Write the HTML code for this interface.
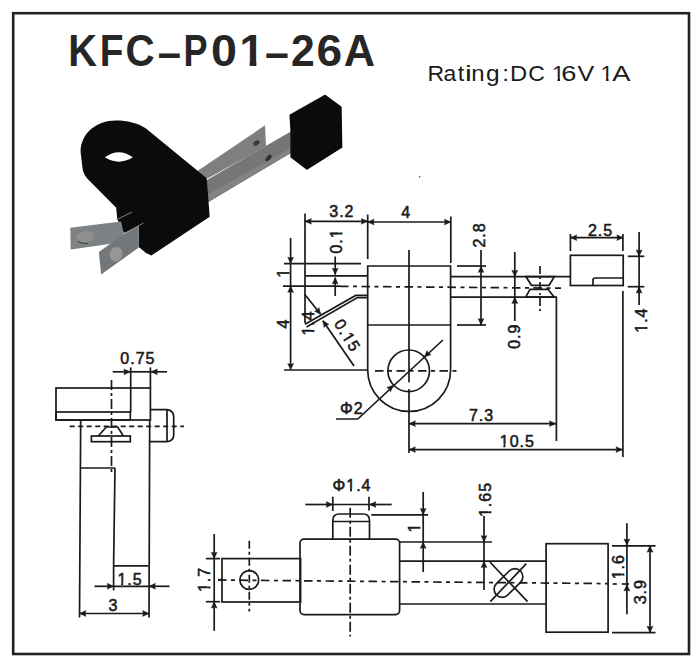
<!DOCTYPE html>
<html><head><meta charset="utf-8"><style>
html,body{margin:0;padding:0;background:#fff;width:700px;height:660px;overflow:hidden}
svg{display:block}
text{font-family:"Liberation Sans",sans-serif;font-kerning:none}
</style></head><body>
<svg width="700" height="660" viewBox="0 0 700 660">
<defs><clipPath id="c1"><rect x="-20.00" y="-57.98" width="64.80" height="52.23"/><rect x="10.11" y="-6.25" width="6.72" height="23.59"/></clipPath><clipPath id="c2"><rect x="-20.00" y="-29.38" width="52.57" height="25.79"/><rect x="5.38" y="-4.09" width="2.60" height="12.63"/></clipPath><clipPath id="c3"><rect x="-20.00" y="-29.38" width="52.57" height="25.79"/><rect x="5.38" y="-4.09" width="2.60" height="12.63"/></clipPath><clipPath id="c4"><rect x="-24.45" y="-20.80" width="48.90" height="17.70"/><rect x="-0.73" y="-3.60" width="2.01" height="9.50"/></clipPath><clipPath id="c5"><rect x="-32.12" y="-20.80" width="64.24" height="17.70"/><rect x="-15.12" y="-3.60" width="14.90" height="9.50"/><rect x="-5.22" y="-3.60" width="7.95" height="9.50"/><rect x="6.95" y="-3.60" width="2.01" height="9.50"/></clipPath><clipPath id="c6"><rect x="-20.00" y="-20.80" width="74.14" height="17.70"/><rect x="-3.00" y="-3.60" width="14.90" height="9.50"/><rect x="6.90" y="-3.60" width="7.95" height="9.50"/><rect x="19.07" y="-3.60" width="2.01" height="9.50"/><rect x="24.74" y="-3.60" width="12.40" height="9.50"/></clipPath><clipPath id="c7"><rect x="-32.12" y="-20.80" width="64.24" height="17.70"/><rect x="-8.40" y="-3.60" width="2.01" height="9.50"/><rect x="-2.72" y="-3.60" width="7.95" height="9.50"/><rect x="0.22" y="-3.60" width="14.90" height="9.50"/></clipPath><clipPath id="c8"><rect x="-32.12" y="-20.80" width="64.24" height="17.70"/><rect x="-8.40" y="-3.60" width="2.01" height="9.50"/><rect x="-2.72" y="-3.60" width="7.95" height="9.50"/><rect x="0.22" y="-3.60" width="14.90" height="9.50"/></clipPath><clipPath id="c9"><rect x="-37.07" y="-20.80" width="74.14" height="17.70"/><rect x="-13.35" y="-3.60" width="2.01" height="9.50"/><rect x="-7.67" y="-3.60" width="12.40" height="9.50"/><rect x="-0.27" y="-3.60" width="10.45" height="9.50"/><rect x="5.17" y="-3.60" width="14.90" height="9.50"/></clipPath><clipPath id="c10"><rect x="-32.12" y="-20.80" width="64.24" height="17.70"/><rect x="-8.40" y="-3.60" width="2.01" height="9.50"/><rect x="-2.72" y="-3.60" width="7.95" height="9.50"/><rect x="0.22" y="-3.60" width="14.90" height="9.50"/></clipPath><clipPath id="c11"><rect x="-32.12" y="-20.80" width="64.24" height="17.70"/><rect x="-8.40" y="-3.60" width="2.01" height="9.50"/><rect x="-2.72" y="-3.60" width="7.95" height="9.50"/><rect x="0.22" y="-3.60" width="14.90" height="9.50"/></clipPath><clipPath id="c12"><rect x="-39.00" y="-20.80" width="78.01" height="17.70"/><rect x="-22.00" y="-3.60" width="16.27" height="9.50"/><rect x="-1.51" y="-3.60" width="2.01" height="9.50"/><rect x="4.16" y="-3.60" width="7.95" height="9.50"/><rect x="7.11" y="-3.60" width="14.90" height="9.50"/></clipPath><clipPath id="c13"><rect x="-24.45" y="-20.80" width="48.90" height="17.70"/><rect x="-0.73" y="-3.60" width="2.01" height="9.50"/></clipPath><clipPath id="c14"><rect x="-37.07" y="-20.80" width="74.14" height="17.70"/><rect x="-13.35" y="-3.60" width="2.01" height="9.50"/><rect x="-7.67" y="-3.60" width="7.95" height="9.50"/><rect x="-4.73" y="-3.60" width="14.90" height="9.50"/><rect x="5.17" y="-3.60" width="14.90" height="9.50"/></clipPath><clipPath id="c15"><rect x="-32.12" y="-20.80" width="64.24" height="17.70"/><rect x="-8.40" y="-3.60" width="2.01" height="9.50"/><rect x="-2.72" y="-3.60" width="7.95" height="9.50"/><rect x="0.22" y="-3.60" width="14.90" height="9.50"/></clipPath></defs>
<rect x="13.2" y="13.2" width="675.8" height="640.8" fill="none" stroke="#222" stroke-width="2.6"/>
<text transform="translate(68.34,66.4) scale(0.892,1)" x="0" y="0" font-size="44.6" font-weight="bold" fill="#262626">K</text>
<text transform="translate(99.80,66.4) scale(0.871,1)" x="0" y="0" font-size="44.6" font-weight="bold" fill="#262626">F</text>
<text transform="translate(125.44,66.4) scale(0.905,1)" x="0" y="0" font-size="44.6" font-weight="bold" fill="#262626">C</text>
<text transform="translate(157.63,68.2) scale(0.937,1)" x="0" y="0" font-size="44.6" font-weight="bold" fill="#262626">–</text>
<text transform="translate(183.59,66.4) scale(0.808,1)" x="0" y="0" font-size="44.6" font-weight="bold" fill="#262626">P</text>
<text transform="translate(210.95,66.4) scale(1.047,1)" x="0" y="0" font-size="44.6" font-weight="bold" fill="#262626">0</text>
<text transform="translate(239.57,66.4)" x="0.00" y="0" font-size="44.6" font-weight="bold" fill="#262626" clip-path="url(#c1)">1</text>
<text transform="translate(265.10,68.2) scale(0.960,1)" x="0" y="0" font-size="44.6" font-weight="bold" fill="#262626">–</text>
<text transform="translate(291.12,66.4) scale(0.955,1)" x="0" y="0" font-size="44.6" font-weight="bold" fill="#262626">2</text>
<text transform="translate(316.61,66.4) scale(1.034,1)" x="0" y="0" font-size="44.6" font-weight="bold" fill="#262626">6</text>
<text transform="translate(343.82,66.4) scale(0.973,1)" x="0" y="0" font-size="44.6" font-weight="bold" fill="#262626">A</text>
<text transform="translate(427.51,80.9) scale(1.021,1)" x="0" y="0" font-size="22.6" fill="#1a1a1a">R</text>
<text transform="translate(443.62,80.9) scale(1.016,1)" x="0" y="0" font-size="22.6" fill="#1a1a1a">a</text>
<text transform="translate(457.64,80.9) scale(1.040,1)" x="0" y="0" font-size="22.6" fill="#1a1a1a">t</text>
<text transform="translate(465.05,80.9) scale(1.359,1)" x="0" y="0" font-size="22.6" fill="#1a1a1a">i</text>
<text transform="translate(471.31,80.9) scale(1.062,1)" x="0" y="0" font-size="22.6" fill="#1a1a1a">n</text>
<text transform="translate(486.07,80.9) scale(1.082,1)" x="0" y="0" font-size="22.6" fill="#1a1a1a">g</text>
<text transform="translate(502.19,80.9) scale(1.069,1)" x="0" y="0" font-size="22.6" fill="#1a1a1a">:</text>
<text transform="translate(509.95,80.9) scale(1.053,1)" x="0" y="0" font-size="22.6" fill="#1a1a1a">D</text>
<text transform="translate(528.23,80.9) scale(1.020,1)" x="0" y="0" font-size="22.6" fill="#1a1a1a">C</text>
<text transform="translate(552.12,80.9)" x="0.00" y="0" font-size="22.6" fill="#1a1a1a" clip-path="url(#c2)">1</text>
<text transform="translate(561.31,80.9) scale(1.208,1)" x="0" y="0" font-size="22.6" fill="#1a1a1a">6</text>
<text transform="translate(577.49,80.9) scale(1.109,1)" x="0" y="0" font-size="22.6" fill="#1a1a1a">V</text>
<text transform="translate(600.62,80.9)" x="0.00" y="0" font-size="22.6" fill="#1a1a1a" clip-path="url(#c3)">1</text>
<text transform="translate(612.15,80.9) scale(1.208,1)" x="0" y="0" font-size="22.6" fill="#1a1a1a">A</text>
<g id="photo">
<polygon points="190,176 265,125.3 266,146.1 208,178.3" fill="#7f807e"/>
<polygon points="200,184 290.9,131.4 290.9,152.9 202,206" fill="#767775"/>
<polygon points="205,196 290.9,148 290.9,152.9 209.3,200.7" fill="#838482"/>
<ellipse cx="256.5" cy="143" rx="3.5" ry="2.2" transform="rotate(-30 256.5 143)" fill="#3a3a3a"/>
<ellipse cx="268.5" cy="158" rx="4" ry="2" transform="rotate(-50 268.5 158)" fill="#2e2e2e"/>
<path d="M80.6,152 C80.6,133 97,120.6 115.5,120.6 C128,120.6 137,123 146,128.5 L206.7,178.2 L209.7,216.8 L151.4,255.5 L146,253 L138.8,247 L138.8,227 L124,233 L117.2,219 L116.2,207.8 L89.7,181 Q83,175 82.5,168 Z" fill="#0b0b0b"/>
<path d="M104.8,157.3 Q118.8,147 132.9,157.3 Q118.8,166 104.8,157.3 Z" fill="#fff"/>
<polygon points="70.3,227.7 121.1,221.6 123.6,232.9 123.6,242 70.7,249.4" fill="#7f8284"/>
<polygon points="98.9,252.1 124.6,233.4 138.8,225.5 138.8,247.5 101.1,274.6" fill="#747779"/>
<line x1="117.7" y1="219.1" x2="132" y2="212.2" stroke="#9aa59a" stroke-width="0.8"/>
<line x1="124.6" y1="233.4" x2="143.3" y2="223.1" stroke="#9aa59a" stroke-width="0.8"/>
<ellipse cx="85" cy="237.1" rx="8.8" ry="5.8" transform="rotate(-6 85 237.1)" fill="#8e908e"/>
<path d="M78,241.5 Q82,244 88,243.4" stroke="#3a3c3e" stroke-width="1.2" fill="none"/>
<ellipse cx="116" cy="254.1" rx="6.3" ry="7.3" transform="rotate(20 116 254.1)" fill="#969696"/>
<polygon points="290.2,115.2 325.2,95.5 340.9,107 341.6,147.2 306.8,169 291.1,156.8 291.1,129.5" fill="#0b0b0b" stroke="#0b0b0b" stroke-width="1.5" stroke-linejoin="round"/>
</g>
<rect x="419" y="176" width="1.3" height="1.5" fill="#555"/>
<line x1="305" y1="213.5" x2="305" y2="323" stroke="#1a1a1a" stroke-width="1.7"/>
<line x1="367.7" y1="214.5" x2="367.7" y2="259" stroke="#1a1a1a" stroke-width="1.7"/>
<line x1="450.8" y1="216.5" x2="450.8" y2="263" stroke="#1a1a1a" stroke-width="1.7"/>
<line x1="305" y1="221.3" x2="367.7" y2="221.3" stroke="#1a1a1a" stroke-width="1.7"/>
<polygon points="305.0,221.3 311.4,218.4 310.7,221.3 311.4,224.2" fill="#1a1a1a" stroke="#1a1a1a" stroke-width="0.4" stroke-linejoin="round"/>
<polygon points="367.7,221.3 361.3,224.2 362.0,221.3 361.3,218.4" fill="#1a1a1a" stroke="#1a1a1a" stroke-width="0.4" stroke-linejoin="round"/>
<line x1="367.7" y1="222" x2="450.8" y2="222" stroke="#1a1a1a" stroke-width="1.7"/>
<polygon points="367.7,222.0 374.1,219.1 373.4,222.0 374.1,224.9" fill="#1a1a1a" stroke="#1a1a1a" stroke-width="0.4" stroke-linejoin="round"/>
<polygon points="450.8,222.0 444.4,224.9 445.1,222.0 444.4,219.1" fill="#1a1a1a" stroke="#1a1a1a" stroke-width="0.4" stroke-linejoin="round"/>
<text transform="translate(341.40,217)" x="-12.12 -2.22 3.22" y="0" font-size="16" fill="#1a1a1a" stroke="#1a1a1a" stroke-width="0.55" stroke-linejoin="round">3.2</text>
<text transform="translate(405.70,217.5)" x="-4.45" y="0" font-size="16" fill="#1a1a1a" stroke="#1a1a1a" stroke-width="0.55" stroke-linejoin="round">4</text>
<path d="M367.7,266 L450.6,266 L450.6,370 A41.45,41.45 0 0 1 367.7,370 Z" fill="none" stroke="#1a1a1a" stroke-width="1.7"/>
<line x1="367.7" y1="325" x2="450.6" y2="325" stroke="#1a1a1a" stroke-width="1.7"/>
<line x1="284" y1="263.6" x2="361" y2="263.6" stroke="#1a1a1a" stroke-width="1.7"/>
<line x1="305" y1="275.8" x2="367.7" y2="275.8" stroke="#1a1a1a" stroke-width="1.7"/>
<line x1="450.6" y1="276.6" x2="570.4" y2="276.6" stroke="#1a1a1a" stroke-width="1.7"/>
<line x1="450.6" y1="297.2" x2="557" y2="297.2" stroke="#1a1a1a" stroke-width="1.7"/>
<line x1="283" y1="286.2" x2="340" y2="286.2" stroke="#1a1a1a" stroke-width="1.7"/>
<line x1="340" y1="286.3" x2="561" y2="288.2" stroke="#1a1a1a" stroke-width="1.7" stroke-dasharray="8.5 4.5 4 4.5"/>
<line x1="290.6" y1="238" x2="290.6" y2="366" stroke="#1a1a1a" stroke-width="1.7"/>
<polygon points="290.6,263.6 287.7,257.2 290.6,257.9 293.6,257.2" fill="#1a1a1a" stroke="#1a1a1a" stroke-width="0.4" stroke-linejoin="round"/>
<polygon points="290.6,286.0 293.6,292.4 290.6,291.7 287.7,292.4" fill="#1a1a1a" stroke="#1a1a1a" stroke-width="0.4" stroke-linejoin="round"/>
<polygon points="290.6,370.0 287.7,363.6 290.6,364.3 293.6,363.6" fill="#1a1a1a" stroke="#1a1a1a" stroke-width="0.4" stroke-linejoin="round"/>
<text transform="translate(288.8,273.2) rotate(-90)" x="-4.45" y="0" font-size="16" fill="#1a1a1a" stroke="#1a1a1a" stroke-width="0.55" stroke-linejoin="round" clip-path="url(#c4)">1</text>
<text transform="translate(288.5,324) rotate(-90)" x="-4.45" y="0" font-size="16" fill="#1a1a1a" stroke="#1a1a1a" stroke-width="0.55" stroke-linejoin="round">4</text>
<line x1="284" y1="370" x2="367.7" y2="370" stroke="#1a1a1a" stroke-width="1.7"/>
<line x1="375" y1="370.8" x2="457" y2="370.8" stroke="#1a1a1a" stroke-width="1.7" stroke-dasharray="8.5 4.5 4 4.5"/>
<line x1="335.2" y1="256.5" x2="335.2" y2="274.6" stroke="#1a1a1a" stroke-width="1.7"/>
<polygon points="335.2,274.6 332.2,268.2 335.2,268.9 338.1,268.2" fill="#1a1a1a" stroke="#1a1a1a" stroke-width="0.4" stroke-linejoin="round"/>
<line x1="335.2" y1="296" x2="335.2" y2="277.6" stroke="#1a1a1a" stroke-width="1.7"/>
<polygon points="335.2,277.6 338.1,284.0 335.2,283.3 332.2,284.0" fill="#1a1a1a" stroke="#1a1a1a" stroke-width="0.4" stroke-linejoin="round"/>
<text transform="translate(341.5,241.5) rotate(-90)" x="-12.12 -2.22 3.22" y="0" font-size="16" fill="#1a1a1a" stroke="#1a1a1a" stroke-width="0.55" stroke-linejoin="round" clip-path="url(#c5)">0.1</text>
<polyline points="305,324.3 355.7,295.4 367.7,295.4" fill="none" stroke="#1a1a1a" stroke-width="1.7" stroke-linejoin="miter"/>
<polyline points="306.5,327 357.5,297.6 367.7,297.6" fill="none" stroke="#1a1a1a" stroke-width="1.7" stroke-linejoin="miter"/>
<line x1="304.6" y1="294.3" x2="320.7" y2="314.3" stroke="#1a1a1a" stroke-width="1.7"/>
<polygon points="320.7,314.3 314.4,311.2 317.1,309.9 319.0,307.5" fill="#1a1a1a" stroke="#1a1a1a" stroke-width="0.4" stroke-linejoin="round"/>
<line x1="354" y1="366" x2="322.9" y2="320.7" stroke="#1a1a1a" stroke-width="1.7"/>
<polygon points="322.9,320.7 329.0,324.3 326.1,325.4 324.1,327.6" fill="#1a1a1a" stroke="#1a1a1a" stroke-width="0.4" stroke-linejoin="round"/>
<text transform="translate(333.5,323.5) rotate(58)" x="0.00 9.90 15.34 25.24" y="0" font-size="16" fill="#1a1a1a" stroke="#1a1a1a" stroke-width="0.55" stroke-linejoin="round" clip-path="url(#c6)">0.15</text>
<text transform="translate(314,323.5) rotate(-90)" x="-12.12 -2.22 3.22" y="0" font-size="16" fill="#1a1a1a" stroke="#1a1a1a" stroke-width="0.55" stroke-linejoin="round" clip-path="url(#c7)">1.4</text>
<circle cx="408.7" cy="370.8" r="20.8" fill="none" stroke="#1a1a1a" stroke-width="1.7"/>
<line x1="409" y1="250" x2="409" y2="382.2" stroke="#1a1a1a" stroke-width="1.7"/>
<line x1="409" y1="389" x2="409" y2="453" stroke="#1a1a1a" stroke-width="1.7"/>
<polyline points="336,419 357.8,419 442.9,340" fill="none" stroke="#1a1a1a" stroke-width="1.7" stroke-linejoin="miter"/>
<polygon points="393.4,385.3 390.6,391.8 389.2,389.1 386.7,387.4" fill="#1a1a1a" stroke="#1a1a1a" stroke-width="0.4" stroke-linejoin="round"/>
<polygon points="424.3,356.9 427.0,350.4 428.5,353.0 431.0,354.7" fill="#1a1a1a" stroke="#1a1a1a" stroke-width="0.4" stroke-linejoin="round"/>
<text transform="translate(340.00,414)" x="0.00 13.77" y="0" font-size="16" fill="#1a1a1a" stroke="#1a1a1a" stroke-width="0.55" stroke-linejoin="round">Φ2</text>
<line x1="481" y1="266" x2="481" y2="325" stroke="#1a1a1a" stroke-width="1.7"/>
<polygon points="481.0,266.0 483.9,272.4 481.0,271.7 478.1,272.4" fill="#1a1a1a" stroke="#1a1a1a" stroke-width="0.4" stroke-linejoin="round"/>
<polygon points="481.0,325.0 478.1,318.6 481.0,319.3 483.9,318.6" fill="#1a1a1a" stroke="#1a1a1a" stroke-width="0.4" stroke-linejoin="round"/>
<line x1="481" y1="250" x2="481" y2="266" stroke="#1a1a1a" stroke-width="1.7"/>
<line x1="457" y1="266" x2="486" y2="266" stroke="#1a1a1a" stroke-width="1.7"/>
<line x1="457" y1="325" x2="486" y2="325" stroke="#1a1a1a" stroke-width="1.7"/>
<text transform="translate(485,235.5) rotate(-90)" x="-12.12 -2.22 3.22" y="0" font-size="16" fill="#1a1a1a" stroke="#1a1a1a" stroke-width="0.55" stroke-linejoin="round">2.8</text>
<line x1="514.8" y1="252" x2="514.8" y2="276.6" stroke="#1a1a1a" stroke-width="1.7"/>
<polygon points="514.8,276.6 511.8,270.2 514.8,270.9 517.8,270.2" fill="#1a1a1a" stroke="#1a1a1a" stroke-width="0.4" stroke-linejoin="round"/>
<line x1="514.8" y1="321" x2="514.8" y2="297.2" stroke="#1a1a1a" stroke-width="1.7"/>
<polygon points="514.8,297.2 517.8,303.6 514.8,302.9 511.8,303.6" fill="#1a1a1a" stroke="#1a1a1a" stroke-width="0.4" stroke-linejoin="round"/>
<line x1="514.8" y1="276.6" x2="514.8" y2="297.2" stroke="#1a1a1a" stroke-width="1.7"/>
<text transform="translate(520,336.7) rotate(-90)" x="-12.12 -2.22 3.22" y="0" font-size="16" fill="#1a1a1a" stroke="#1a1a1a" stroke-width="0.55" stroke-linejoin="round">0.9</text>
<polygon points="526,276.7 531.4,285.3 549.1,285.3 554.3,276.7" fill="none" stroke="#1a1a1a" stroke-width="1.7" stroke-linejoin="miter"/>
<polygon points="525.7,297.2 530,289.3 548,289.3 554.3,297.2" fill="none" stroke="#1a1a1a" stroke-width="1.7" stroke-linejoin="miter"/>
<line x1="540" y1="266" x2="540" y2="313" stroke="#1a1a1a" stroke-width="1.7" stroke-dasharray="8 3 2 3"/>
<rect x="570.4" y="255.3" width="52.8" height="30.2" fill="none" stroke="#1a1a1a" stroke-width="1.7"/>
<path d="M623.2,278 L595,278 Q593,278 593,280 L593,285.5" fill="none" stroke="#1a1a1a" stroke-width="1.7"/>
<line x1="570.4" y1="237.7" x2="623.2" y2="237.7" stroke="#1a1a1a" stroke-width="1.7"/>
<polygon points="570.4,237.7 576.8,234.8 576.1,237.7 576.8,240.6" fill="#1a1a1a" stroke="#1a1a1a" stroke-width="0.4" stroke-linejoin="round"/>
<polygon points="623.2,237.7 616.8,240.6 617.5,237.7 616.8,234.8" fill="#1a1a1a" stroke="#1a1a1a" stroke-width="0.4" stroke-linejoin="round"/>
<line x1="570.4" y1="234" x2="570.4" y2="251" stroke="#1a1a1a" stroke-width="1.7"/>
<line x1="622.9" y1="234" x2="622.9" y2="251" stroke="#1a1a1a" stroke-width="1.7"/>
<line x1="622.9" y1="291" x2="622.9" y2="457" stroke="#1a1a1a" stroke-width="1.7"/>
<text transform="translate(600.00,236)" x="-12.12 -2.22 3.22" y="0" font-size="16" fill="#1a1a1a" stroke="#1a1a1a" stroke-width="0.55" stroke-linejoin="round">2.5</text>
<line x1="627.8" y1="256.3" x2="644.3" y2="256.3" stroke="#1a1a1a" stroke-width="1.7"/>
<line x1="627.8" y1="286.7" x2="644.3" y2="286.7" stroke="#1a1a1a" stroke-width="1.7"/>
<line x1="639.1" y1="232" x2="639.1" y2="256.3" stroke="#1a1a1a" stroke-width="1.7"/>
<polygon points="639.1,256.3 636.1,249.9 639.1,250.6 642.1,249.9" fill="#1a1a1a" stroke="#1a1a1a" stroke-width="0.4" stroke-linejoin="round"/>
<line x1="639.1" y1="305" x2="639.1" y2="286.7" stroke="#1a1a1a" stroke-width="1.7"/>
<polygon points="639.1,286.7 642.1,293.1 639.1,292.4 636.1,293.1" fill="#1a1a1a" stroke="#1a1a1a" stroke-width="0.4" stroke-linejoin="round"/>
<line x1="639.1" y1="256.3" x2="639.1" y2="286.7" stroke="#1a1a1a" stroke-width="1.7"/>
<text transform="translate(647,320.6) rotate(-90)" x="-12.12 -2.22 3.22" y="0" font-size="16" fill="#1a1a1a" stroke="#1a1a1a" stroke-width="0.55" stroke-linejoin="round" clip-path="url(#c8)">1.4</text>
<line x1="556.4" y1="297.2" x2="556.4" y2="441" stroke="#1a1a1a" stroke-width="1.7"/>
<line x1="409" y1="423.7" x2="555.8" y2="423.7" stroke="#1a1a1a" stroke-width="1.7"/>
<polygon points="409.0,423.7 415.4,420.8 414.7,423.7 415.4,426.6" fill="#1a1a1a" stroke="#1a1a1a" stroke-width="0.4" stroke-linejoin="round"/>
<polygon points="555.8,423.7 549.4,426.6 550.1,423.7 549.4,420.8" fill="#1a1a1a" stroke="#1a1a1a" stroke-width="0.4" stroke-linejoin="round"/>
<line x1="409" y1="449.6" x2="622.4" y2="449.6" stroke="#1a1a1a" stroke-width="1.7"/>
<polygon points="409.0,449.6 415.4,446.7 414.7,449.6 415.4,452.6" fill="#1a1a1a" stroke="#1a1a1a" stroke-width="0.4" stroke-linejoin="round"/>
<polygon points="622.4,449.6 616.0,452.6 616.7,449.6 616.0,446.7" fill="#1a1a1a" stroke="#1a1a1a" stroke-width="0.4" stroke-linejoin="round"/>
<text transform="translate(481.00,421)" x="-12.12 -2.22 3.22" y="0" font-size="16" fill="#1a1a1a" stroke="#1a1a1a" stroke-width="0.55" stroke-linejoin="round">7.3</text>
<text transform="translate(516.80,446.8)" x="-17.07 -7.17 2.73 8.17" y="0" font-size="16" fill="#1a1a1a" stroke="#1a1a1a" stroke-width="0.55" stroke-linejoin="round" clip-path="url(#c9)">10.5</text>
<rect x="56" y="388" width="94.4" height="32" fill="none" stroke="#1a1a1a" stroke-width="1.7"/>
<rect x="56" y="412" width="74.3" height="8" fill="none" stroke="#1a1a1a" stroke-width="1.7"/>
<line x1="130.7" y1="367.4" x2="130.7" y2="412" stroke="#1a1a1a" stroke-width="1.7"/>
<line x1="150.4" y1="367.4" x2="150.4" y2="388" stroke="#1a1a1a" stroke-width="1.7"/>
<line x1="112.7" y1="371.8" x2="130.2" y2="371.8" stroke="#1a1a1a" stroke-width="1.7"/>
<polygon points="130.2,371.8 123.8,374.8 124.5,371.8 123.8,368.9" fill="#1a1a1a" stroke="#1a1a1a" stroke-width="0.4" stroke-linejoin="round"/>
<line x1="130.2" y1="371.8" x2="150.6" y2="371.8" stroke="#1a1a1a" stroke-width="1.7"/>
<line x1="167" y1="371.8" x2="151" y2="371.8" stroke="#1a1a1a" stroke-width="1.7"/>
<polygon points="151.0,371.8 157.4,368.9 156.7,371.8 157.4,374.8" fill="#1a1a1a" stroke="#1a1a1a" stroke-width="0.4" stroke-linejoin="round"/>
<text transform="translate(137.40,364)" x="-17.07 -7.17 -1.73 8.17" y="0" font-size="16" fill="#1a1a1a" stroke="#1a1a1a" stroke-width="0.55" stroke-linejoin="round">0.75</text>
<line x1="111.5" y1="380" x2="111.5" y2="475" stroke="#1a1a1a" stroke-width="1.7" stroke-dasharray="10 3 3 3"/>
<line x1="69.7" y1="426.4" x2="184" y2="426.4" stroke="#1a1a1a" stroke-width="1.7" stroke-dasharray="5 3.5"/>
<line x1="80.7" y1="420" x2="79.5" y2="617.6" stroke="#1a1a1a" stroke-width="1.7"/>
<line x1="149.7" y1="420" x2="149" y2="617.6" stroke="#1a1a1a" stroke-width="1.7"/>
<path d="M150,409.7 L167,409.7 Q173.7,410.5 173.7,417 L173.7,435 Q173.7,441 167,441.7 L150,441.7" fill="none" stroke="#1a1a1a" stroke-width="1.7"/>
<line x1="167" y1="409.7" x2="167" y2="441.7" stroke="#1a1a1a" stroke-width="1.7"/>
<rect x="91.4" y="436" width="38.9" height="5.7" fill="none" stroke="#1a1a1a" stroke-width="1.7"/>
<polyline points="98.3,436 106.3,427 117.7,427 123.4,436" fill="none" stroke="#1a1a1a" stroke-width="1.7" stroke-linejoin="miter"/>
<line x1="80.9" y1="468" x2="115" y2="468" stroke="#1a1a1a" stroke-width="1.7"/>
<line x1="115" y1="468" x2="113.6" y2="565.8" stroke="#1a1a1a" stroke-width="1.7"/>
<line x1="113.6" y1="565.8" x2="148.5" y2="565.8" stroke="#1a1a1a" stroke-width="1.7"/>
<line x1="113.6" y1="565.8" x2="113.6" y2="590.4" stroke="#1a1a1a" stroke-width="1.7"/>
<line x1="94.5" y1="586.3" x2="113.6" y2="586.3" stroke="#1a1a1a" stroke-width="1.7"/>
<polygon points="113.6,586.3 107.2,589.2 107.9,586.3 107.2,583.3" fill="#1a1a1a" stroke="#1a1a1a" stroke-width="0.4" stroke-linejoin="round"/>
<line x1="169.5" y1="586.3" x2="149" y2="586.3" stroke="#1a1a1a" stroke-width="1.7"/>
<polygon points="149.0,586.3 155.4,583.3 154.7,586.3 155.4,589.2" fill="#1a1a1a" stroke="#1a1a1a" stroke-width="0.4" stroke-linejoin="round"/>
<line x1="113.6" y1="586.3" x2="149" y2="586.3" stroke="#1a1a1a" stroke-width="1.7"/>
<text transform="translate(129.50,585)" x="-12.12 -2.22 3.22" y="0" font-size="16" fill="#1a1a1a" stroke="#1a1a1a" stroke-width="0.55" stroke-linejoin="round" clip-path="url(#c10)">1.5</text>
<line x1="79.5" y1="613.5" x2="149" y2="613.5" stroke="#1a1a1a" stroke-width="1.7"/>
<polygon points="79.5,613.5 85.9,610.5 85.2,613.5 85.9,616.5" fill="#1a1a1a" stroke="#1a1a1a" stroke-width="0.4" stroke-linejoin="round"/>
<polygon points="149.0,613.5 142.6,616.5 143.3,613.5 142.6,610.5" fill="#1a1a1a" stroke="#1a1a1a" stroke-width="0.4" stroke-linejoin="round"/>
<text transform="translate(113.00,610.8)" x="-4.45" y="0" font-size="16" fill="#1a1a1a" stroke="#1a1a1a" stroke-width="0.55" stroke-linejoin="round">3</text>
<rect x="222" y="558.6" width="78.6" height="43.4" fill="none" stroke="#1a1a1a" stroke-width="1.7"/>
<circle cx="249.3" cy="580" r="9.4" fill="none" stroke="#1a1a1a" stroke-width="1.7"/>
<line x1="249.3" y1="540.7" x2="249.3" y2="611.4" stroke="#1a1a1a" stroke-width="1.7" stroke-dasharray="8 3 3 3"/>
<line x1="218" y1="580" x2="608" y2="583.6" stroke="#1a1a1a" stroke-width="1.7" stroke-dasharray="8.5 4.5 4 4.5"/>
<line x1="612.7" y1="584" x2="616.8" y2="584" stroke="#1a1a1a" stroke-width="1.7"/>
<line x1="621.8" y1="584" x2="629" y2="584" stroke="#1a1a1a" stroke-width="1.7"/>
<line x1="214.2" y1="534" x2="214.2" y2="558.6" stroke="#1a1a1a" stroke-width="1.7"/>
<polygon points="214.2,558.6 211.2,552.2 214.2,552.9 217.1,552.2" fill="#1a1a1a" stroke="#1a1a1a" stroke-width="0.4" stroke-linejoin="round"/>
<line x1="214.2" y1="558.6" x2="214.2" y2="602" stroke="#1a1a1a" stroke-width="1.7"/>
<line x1="214.2" y1="630.8" x2="214.2" y2="601.7" stroke="#1a1a1a" stroke-width="1.7"/>
<polygon points="214.2,601.7 217.1,608.1 214.2,607.4 211.2,608.1" fill="#1a1a1a" stroke="#1a1a1a" stroke-width="0.4" stroke-linejoin="round"/>
<line x1="205.8" y1="558.6" x2="220" y2="558.6" stroke="#1a1a1a" stroke-width="1.7"/>
<line x1="205.8" y1="601.7" x2="220" y2="601.7" stroke="#1a1a1a" stroke-width="1.7"/>
<line x1="218.3" y1="579.7" x2="222" y2="579.7" stroke="#1a1a1a" stroke-width="1.7"/>
<text transform="translate(210,580) rotate(-90)" x="-12.12 -2.22 3.22" y="0" font-size="16" fill="#1a1a1a" stroke="#1a1a1a" stroke-width="0.55" stroke-linejoin="round" clip-path="url(#c11)">1.7</text>
<rect x="300" y="539.1" width="99.6" height="75.5" rx="4" fill="none" stroke="#1a1a1a" stroke-width="1.7"/>
<path d="M332.8,539.1 L332.8,520.5 Q332.8,514 339.3,514 L363,514 Q369.5,514 369.5,520.5 L369.5,539.1" fill="none" stroke="#1a1a1a" stroke-width="1.7"/>
<line x1="332.8" y1="521.5" x2="369.5" y2="521.5" stroke="#1a1a1a" stroke-width="1.7"/>
<line x1="350.2" y1="507.7" x2="350.2" y2="636.6" stroke="#1a1a1a" stroke-width="1.7" stroke-dasharray="10 3 3 3"/>
<line x1="332.8" y1="496.7" x2="332.8" y2="511" stroke="#1a1a1a" stroke-width="1.7"/>
<line x1="369" y1="496.7" x2="369" y2="510.5" stroke="#1a1a1a" stroke-width="1.7"/>
<line x1="305.3" y1="504.5" x2="332.6" y2="504.5" stroke="#1a1a1a" stroke-width="1.7"/>
<polygon points="332.6,504.5 326.2,507.4 326.9,504.5 326.2,501.6" fill="#1a1a1a" stroke="#1a1a1a" stroke-width="0.4" stroke-linejoin="round"/>
<line x1="391.7" y1="504.5" x2="369.5" y2="504.5" stroke="#1a1a1a" stroke-width="1.7"/>
<polygon points="369.5,504.5 375.9,501.6 375.2,504.5 375.9,507.4" fill="#1a1a1a" stroke="#1a1a1a" stroke-width="0.4" stroke-linejoin="round"/>
<line x1="332.6" y1="504.5" x2="369.5" y2="504.5" stroke="#1a1a1a" stroke-width="1.7"/>
<text transform="translate(351.50,491.4)" x="-19.00 -5.24 4.66 10.11" y="0" font-size="16" fill="#1a1a1a" stroke="#1a1a1a" stroke-width="0.55" stroke-linejoin="round" clip-path="url(#c12)">Φ1.4</text>
<line x1="371.3" y1="514.8" x2="428" y2="514.8" stroke="#1a1a1a" stroke-width="1.7"/>
<line x1="399.6" y1="542" x2="492" y2="542" stroke="#1a1a1a" stroke-width="1.7"/>
<line x1="399.6" y1="561.2" x2="546" y2="561.2" stroke="#1a1a1a" stroke-width="1.7"/>
<line x1="399.6" y1="604" x2="546" y2="604" stroke="#1a1a1a" stroke-width="1.7"/>
<line x1="423.2" y1="492" x2="423.2" y2="514.8" stroke="#1a1a1a" stroke-width="1.7"/>
<polygon points="423.2,514.8 420.2,508.4 423.2,509.1 426.1,508.4" fill="#1a1a1a" stroke="#1a1a1a" stroke-width="0.4" stroke-linejoin="round"/>
<line x1="423.2" y1="572" x2="423.2" y2="542" stroke="#1a1a1a" stroke-width="1.7"/>
<polygon points="423.2,542.0 426.1,548.4 423.2,547.7 420.2,548.4" fill="#1a1a1a" stroke="#1a1a1a" stroke-width="0.4" stroke-linejoin="round"/>
<line x1="423.2" y1="514.8" x2="423.2" y2="542" stroke="#1a1a1a" stroke-width="1.7"/>
<text transform="translate(420,528) rotate(-90)" x="-4.45" y="0" font-size="16" fill="#1a1a1a" stroke="#1a1a1a" stroke-width="0.55" stroke-linejoin="round" clip-path="url(#c13)">1</text>
<line x1="484" y1="516" x2="484" y2="542" stroke="#1a1a1a" stroke-width="1.7"/>
<polygon points="484.0,542.0 481.1,535.6 484.0,536.3 486.9,535.6" fill="#1a1a1a" stroke="#1a1a1a" stroke-width="0.4" stroke-linejoin="round"/>
<line x1="484" y1="590" x2="484" y2="561.2" stroke="#1a1a1a" stroke-width="1.7"/>
<polygon points="484.0,561.2 486.9,567.6 484.0,566.9 481.1,567.6" fill="#1a1a1a" stroke="#1a1a1a" stroke-width="0.4" stroke-linejoin="round"/>
<line x1="484" y1="542" x2="484" y2="561.2" stroke="#1a1a1a" stroke-width="1.7"/>
<text transform="translate(491,500) rotate(-90)" x="-17.07 -7.17 -1.73 8.17" y="0" font-size="16" fill="#1a1a1a" stroke="#1a1a1a" stroke-width="0.55" stroke-linejoin="round" clip-path="url(#c14)">1.65</text>
<line x1="489.9" y1="562" x2="527.6" y2="601.7" stroke="#1a1a1a" stroke-width="1.7"/>
<line x1="526.3" y1="563.6" x2="490.3" y2="601.7" stroke="#1a1a1a" stroke-width="1.7"/>
<rect x="-17" y="-8" width="34" height="16" rx="8" transform="translate(508.5,583) rotate(-45)" fill="none" stroke="#1a1a1a" stroke-width="1.7"/>
<rect x="546.1" y="543.7" width="62" height="88.5" fill="none" stroke="#1a1a1a" stroke-width="1.7"/>
<line x1="612" y1="545.8" x2="655.5" y2="545.8" stroke="#1a1a1a" stroke-width="1.7"/>
<line x1="612" y1="632.6" x2="655.5" y2="632.6" stroke="#1a1a1a" stroke-width="1.7"/>
<line x1="626.9" y1="523.3" x2="626.9" y2="545.3" stroke="#1a1a1a" stroke-width="1.7"/>
<polygon points="626.9,545.3 623.9,538.9 626.9,539.6 629.9,538.9" fill="#1a1a1a" stroke="#1a1a1a" stroke-width="0.4" stroke-linejoin="round"/>
<line x1="626.9" y1="614.3" x2="626.9" y2="584.6" stroke="#1a1a1a" stroke-width="1.7"/>
<polygon points="626.9,584.6 629.9,591.0 626.9,590.3 623.9,591.0" fill="#1a1a1a" stroke="#1a1a1a" stroke-width="0.4" stroke-linejoin="round"/>
<line x1="626.9" y1="545" x2="626.9" y2="585" stroke="#1a1a1a" stroke-width="1.7"/>
<text transform="translate(624,567.2) rotate(-90)" x="-12.12 -2.22 3.22" y="0" font-size="16" fill="#1a1a1a" stroke="#1a1a1a" stroke-width="0.55" stroke-linejoin="round" clip-path="url(#c15)">1.6</text>
<line x1="650" y1="545.8" x2="650" y2="632.6" stroke="#1a1a1a" stroke-width="1.7"/>
<polygon points="650.0,545.8 653.0,552.2 650.0,551.5 647.0,552.2" fill="#1a1a1a" stroke="#1a1a1a" stroke-width="0.4" stroke-linejoin="round"/>
<polygon points="650.0,632.6 647.0,626.2 650.0,626.9 653.0,626.2" fill="#1a1a1a" stroke="#1a1a1a" stroke-width="0.4" stroke-linejoin="round"/>
<text transform="translate(646.3,592.2) rotate(-90)" x="-12.12 -2.22 3.22" y="0" font-size="16" fill="#1a1a1a" stroke="#1a1a1a" stroke-width="0.55" stroke-linejoin="round">3.9</text>
</svg>
</body></html>
